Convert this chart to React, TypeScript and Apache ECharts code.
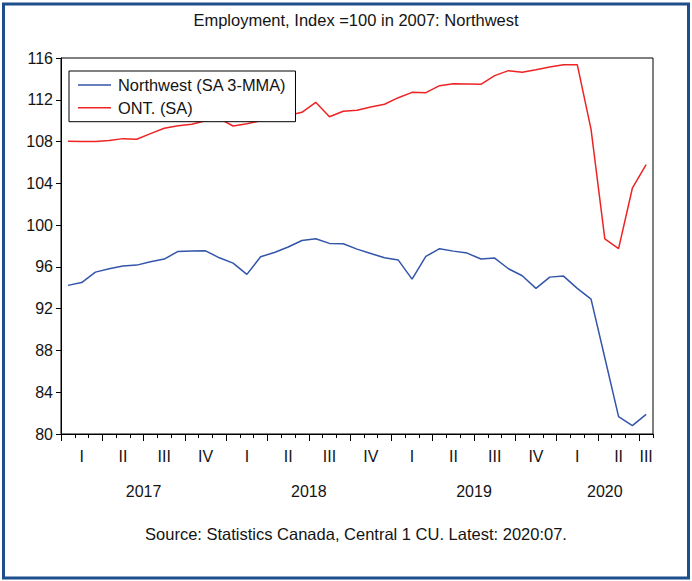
import React, { useEffect, useRef } from "react";
import * as echarts from "echarts";

const months: string[] = [
  "2017:01","2017:02","2017:03","2017:04","2017:05","2017:06","2017:07","2017:08","2017:09","2017:10","2017:11","2017:12",
  "2018:01","2018:02","2018:03","2018:04","2018:05","2018:06","2018:07","2018:08","2018:09","2018:10","2018:11","2018:12",
  "2019:01","2019:02","2019:03","2019:04","2019:05","2019:06","2019:07","2019:08","2019:09","2019:10","2019:11","2019:12",
  "2020:01","2020:02","2020:03","2020:04","2020:05","2020:06","2020:07",
];

const northwest: number[] = [
  94.23, 94.5, 95.5, 95.82, 96.08, 96.17, 96.49, 96.75, 97.48, 97.51, 97.54, 96.87,
  96.36, 95.28, 96.97, 97.38, 97.9, 98.53, 98.69, 98.25, 98.21, 97.7, 97.29, 96.87,
  96.65, 94.83, 97.0, 97.74, 97.51, 97.32, 96.75, 96.84, 95.82, 95.15, 93.94, 95.02,
  95.12, 93.94, 92.92, 87.3, 81.66, 80.8, 81.88,
];

const ontario: number[] = [
  108.03, 108.0, 108.0, 108.09, 108.28, 108.22, 108.76, 109.27, 109.52, 109.65, 110.0, 110.2,
  109.49, 109.71, 110.0, 110.3, 110.5, 110.8, 111.76, 110.38, 110.9, 110.99, 111.31, 111.57,
  112.2, 112.71, 112.68, 113.35, 113.54, 113.51, 113.48, 114.31, 114.79, 114.63, 114.88, 115.14,
  115.36, 115.36, 109.17, 98.68, 97.75, 103.53, 105.79,
];

const quarterNames: string[] = ["I", "II", "III", "IV"];
const yearNames: string[] = ["2017", "2018", "2019", "2020"];
const seriesNames: string[] = ["Northwest (SA 3-MMA)", "ONT. (SA)"];

const FONT = "'Liberation Sans', Arial, sans-serif";
const TXT = "#141414";
const BLUE = "#3355AA";
const RED = "#EE2424";

export default function App() {
  const ref = useRef<HTMLDivElement>(null);
  useEffect(() => {
    if (!ref.current) return;
    const chart = echarts.init(ref.current, undefined, { renderer: "svg" });
    const n = months.length;
    const quarterLabelAt = (i: number): string => {
      const m = i % 12;
      const q = Math.floor(m / 3);
      const lastFull = n - (n % 3);
      if (i >= lastFull) {
        const center = Math.floor((lastFull + n - 1) / 2);
        return i === center ? quarterNames[q] : "";
      }
      return m % 3 === 1 ? quarterNames[q] : "";
    };
    const majorTicks: number[] = [];
    for (let k = 0; k < n; k += 3) majorTicks.push(k);
    const yearCenters: number[] = yearNames.map((_, y) => {
      const start = y * 12;
      const end = Math.min(n, start + 12);
      return (start + end) / 2;
    });

    chart.setOption({
      animation: false,
      backgroundColor: "#ffffff",
      grid: {
        left: 61,
        right: 39,
        top: 58,
        bottom: 147,
        show: true,
        borderColor: "#000",
        borderWidth: 1,
        containLabel: false,
      },
      legend: {
        orient: "vertical",
        left: 69,
        top: 71,
        data: seriesNames.map((name) => ({ name, icon: "rect" })),
        backgroundColor: "#ffffff",
        borderColor: "#000",
        borderWidth: 1,
        borderRadius: 0,
        padding: [5, 9, 5, 9],
        itemWidth: 33,
        itemHeight: 1.5,
        itemGap: 4.7,
        textStyle: { fontSize: 16.4, fontFamily: FONT, color: TXT, lineHeight: 18, padding: [0, 0, 0, 2] },
      },
      xAxis: [
        {
          type: "category",
          data: months,
          boundaryGap: true,
          axisLine: { show: true, lineStyle: { color: "#000", width: 1 } },
          axisTick: { show: true, interval: 0, length: 4, lineStyle: { color: "#000" } },
          axisLabel: {
            interval: 0,
            margin: 14,
            fontSize: 16,
            fontFamily: FONT,
            color: TXT,
            formatter: (_v: string, i: number) => quarterLabelAt(i),
          },
          splitLine: { show: false },
        },
        {
          type: "value",
          position: "bottom",
          min: 0,
          max: n,
          axisLine: { show: false },
          splitLine: { show: false },
          axisTick: { show: true, customValues: majorTicks, length: 7, lineStyle: { color: "#000" } },
          axisLabel: {
            customValues: yearCenters,
            margin: 49,
            fontSize: 16,
            fontFamily: FONT,
            color: TXT,
            formatter: (v: number) => yearNames[Math.min(yearNames.length - 1, Math.floor(v / 12))],
          },
        },
      ],
      yAxis: {
        type: "value",
        min: 80,
        max: 116,
        interval: 4,
        axisLine: { show: true, lineStyle: { color: "#000", width: 1 } },
        axisTick: { show: true, length: 5, lineStyle: { color: "#000" } },
        axisLabel: { fontSize: 16, fontFamily: FONT, color: TXT, margin: 8 },
        splitLine: { show: false },
      },
      series: [
        {
          name: seriesNames[0],
          type: "line",
          data: northwest,
          symbol: "none",
          lineStyle: { color: BLUE, width: 1.5 },
          itemStyle: { color: BLUE },
        },
        {
          name: seriesNames[1],
          type: "line",
          data: ontario,
          symbol: "none",
          lineStyle: { color: RED, width: 1.5 },
          itemStyle: { color: RED },
        },
      ],
      graphic: [
        {
          type: "rect",
          shape: { x: 3.5, y: 4, width: 685, height: 574 },
          style: { fill: "none", stroke: "#1F4E8C", lineWidth: 3 },
          silent: true,
        },
        {
          type: "text",
          x: 356,
          y: 20,
          style: {
            text: "Employment, Index =100 in 2007: Northwest",
            align: "center",
            verticalAlign: "middle",
            fontSize: 16.5,
            fontFamily: FONT,
            fill: TXT,
          },
        },
        {
          type: "text",
          x: 356,
          y: 534,
          style: {
            text: "Source: Statistics Canada, Central 1 CU. Latest: 2020:07.",
            align: "center",
            verticalAlign: "middle",
            fontSize: 16.5,
            fontFamily: FONT,
            fill: TXT,
          },
        },
      ],
    });
    return () => chart.dispose();
  }, []);
  return (
    <div
      ref={ref}
      style={{ position: "absolute", left: 0, top: 0, width: 692, height: 581, background: "#fff" }}
    />
  );
}
